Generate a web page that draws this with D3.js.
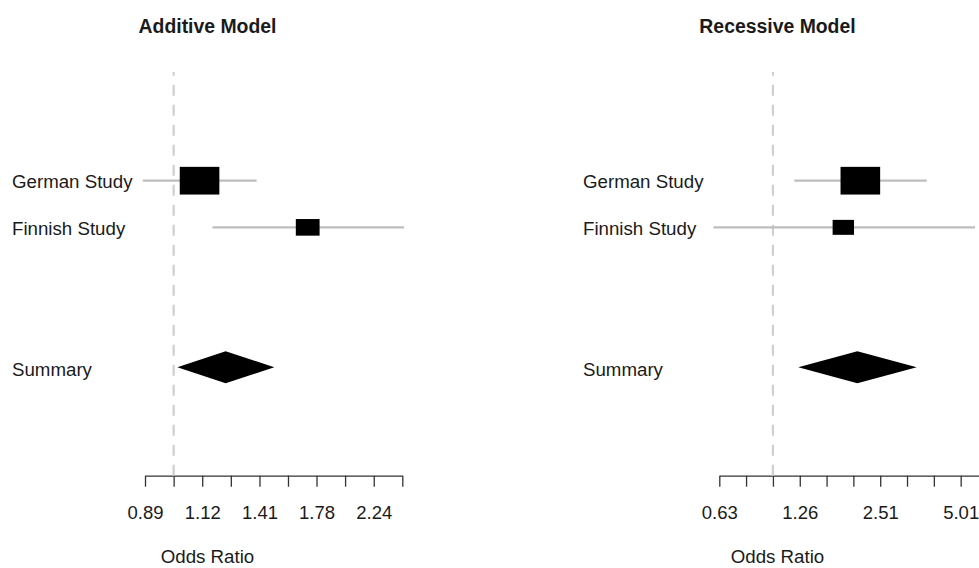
<!DOCTYPE html>
<html>
<head>
<meta charset="utf-8">
<script src="https://cdn.jsdelivr.net/npm/d3@7"></script>
<style>
  html, body { margin: 0; padding: 0; background: #fff; }
  svg { display: block; }
  text { font-family: "Liberation Sans", Arial, sans-serif; fill: #1a1a1a; }
</style>
</head>
<body>
<script>
// Study rows and pooled estimate for each genetic model
const studies = ["German Study", "Finnish Study"];
const summaryLabel = "Summary";
const panelTitles = ["Additive Model", "Recessive Model"];
const axisTitle = "Odds Ratio";

// Additive model: odds ratios with 95% confidence limits
const additiveOR    = [1.110, 1.716];
const additiveLower = [0.883, 1.169];
const additiveUpper = [1.397, 2.530];
const additiveWeight = [1.00, 0.60];   // relative box size (study weight)
const additiveSummary = { or: 1.233, lower: 1.015, upper: 1.500 };

// Recessive model
const recessiveOR    = [2.118, 1.830];
const recessiveLower = [1.202, 0.600];
const recessiveUpper = [3.746, 5.670];
const recessiveWeight = [1.00, 0.54];
const recessiveSummary = { or: 2.064, lower: 1.243, upper: 3.437 };

// Axis tick values (log scale) and their printed labels
const additiveTicks  = [0.891, 1, 1.122, 1.259, 1.413, 1.585, 1.778, 1.995, 2.239, 2.512];
const additiveTickLabels = ["0.89", "", "1.12", "", "1.41", "", "1.78", "", "2.24", ""];
const recessiveTicks = [0.631, 0.794, 1, 1.259, 1.585, 1.995, 2.512, 3.162, 3.981, 5.012, 6.310];
const recessiveTickLabels = ["0.63", "", "", "1.26", "", "", "2.51", "", "", "5.01", ""];

const W = 979, H = 568;
const svg = d3.select("body").append("svg").attr("width", W).attr("height", H);

// Row positions: study 1, study 2, two empty rows, summary
const yRow = d3.scaleLinear().domain([0, 4]).range([180.7, 367.3]);
const summaryRow = 4;
const axisY = 475.7;
const refTop = 72;
const boxMaxH = 27.7, boxAspect = 1.43, diamondH = 32;

const panels = [
  {
    title: panelTitles[0], region: [12, 403],
    x: d3.scaleLog().domain([additiveTicks[0], additiveTicks[additiveTicks.length - 1]]).range([145, 402.3]),
    or: additiveOR, lo: additiveLower, hi: additiveUpper, wt: additiveWeight,
    sum: additiveSummary, ticks: additiveTicks, tickLabels: additiveTickLabels
  },
  {
    title: panelTitles[1], region: [583, 972],
    x: d3.scaleLog().domain([recessiveTicks[0], recessiveTicks[recessiveTicks.length - 1]]).range([719.3, 987.5]),
    or: recessiveOR, lo: recessiveLower, hi: recessiveUpper, wt: recessiveWeight,
    sum: recessiveSummary, ticks: recessiveTicks, tickLabels: recessiveTickLabels
  }
];

panels.forEach(p => {
  const g = svg.append("g");
  const cx = (p.region[0] + p.region[1]) / 2;
  const x = p.x;

  // Title
  g.append("text")
    .attr("x", cx).attr("y", 33)
    .attr("text-anchor", "middle")
    .style("font-size", "19.4px").style("font-weight", "bold")
    .text(p.title);

  // Row labels
  studies.forEach((s, i) => {
    g.append("text")
      .attr("x", p.region[0]).attr("y", yRow(i) + 7.5)
      .style("font-size", "18.7px")
      .text(s);
  });
  g.append("text")
    .attr("x", p.region[0]).attr("y", yRow(summaryRow) + 8.5)
    .style("font-size", "18.7px")
    .text(summaryLabel);

  // Axis
  const axis = d3.axisBottom(x)
    .tickValues(p.ticks)
    .tickFormat((d, i) => p.tickLabels[i])
    .tickSize(11)
    .tickSizeOuter(0)
    .tickPadding(19);
  const ag = g.append("g").attr("transform", `translate(0,${axisY})`).call(axis);
  ag.select(".domain").attr("stroke", "#333").attr("stroke-width", 1.3);
  ag.selectAll(".tick line").attr("stroke", "#333").attr("stroke-width", 1.3);
  ag.selectAll(".tick text")
    .style("font-size", "18.5px")
    .style("font-family", "'Liberation Sans', Arial, sans-serif")
    .attr("fill", "#1a1a1a");

  // Axis title
  g.append("text")
    .attr("x", cx).attr("y", 563)
    .attr("text-anchor", "middle")
    .style("font-size", "18.7px")
    .text(axisTitle);

  // Reference line at OR = 1 (drawn from the axis upward)
  g.append("line")
    .attr("x1", x(1)).attr("x2", x(1))
    .attr("y1", axisY).attr("y2", refTop)
    .attr("stroke", "#cfcfcf").attr("stroke-width", 2.2)
    .attr("stroke-dasharray", "11,9");

  // Confidence intervals
  g.selectAll("line.ci").data(p.or).join("line")
    .attr("class", "ci")
    .attr("x1", (d, i) => x(p.lo[i])).attr("x2", (d, i) => x(p.hi[i]))
    .attr("y1", (d, i) => yRow(i)).attr("y2", (d, i) => yRow(i))
    .attr("stroke", "#bebebe").attr("stroke-width", 2.2);

  // Point estimate boxes, sized by weight
  g.selectAll("rect.box").data(p.or).join("rect")
    .attr("class", "box")
    .attr("x", (d, i) => x(d) - boxMaxH * boxAspect * p.wt[i] / 2)
    .attr("y", (d, i) => yRow(i) - boxMaxH * p.wt[i] / 2)
    .attr("width", (d, i) => boxMaxH * boxAspect * p.wt[i])
    .attr("height", (d, i) => boxMaxH * p.wt[i])
    .attr("fill", "#000");

  // Summary diamond
  const sy = yRow(summaryRow);
  const pts = [
    [x(p.sum.lower), sy],
    [x(p.sum.or), sy - diamondH / 2],
    [x(p.sum.upper), sy],
    [x(p.sum.or), sy + diamondH / 2]
  ];
  g.append("polygon")
    .attr("points", pts.map(q => q.join(",")).join(" "))
    .attr("fill", "#000");
});
</script>
</body>
</html>
